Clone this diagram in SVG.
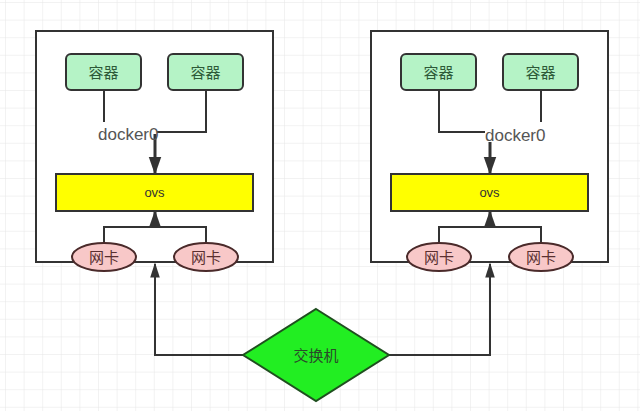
<svg xmlns="http://www.w3.org/2000/svg" width="640" height="411" viewBox="0 0 640 411">
<defs>
<pattern id="grid" x="5" y="2" width="18.6" height="17.6" patternUnits="userSpaceOnUse">
<path d="M0 0V17.6M0 0H18.6" fill="none" stroke="#e6e6e6" stroke-width="1"/>
</pattern>
<marker id="ah" viewBox="0 0 10 10" refX="9" refY="5" markerWidth="6" markerHeight="6" orient="auto" markerUnits="strokeWidth">
<path d="M0 1.5L10 5L0 8.5Z" fill="#333"/>
</marker>
<marker id="ah2" viewBox="0 0 10 10" refX="9" refY="5" markerWidth="7.5" markerHeight="7.5" orient="auto" markerUnits="strokeWidth">
<path d="M0 1.8L10 5L0 8.2Z" fill="#333"/>
</marker>
</defs>
<style>
.host{fill:#fff;stroke:#333;stroke-width:2}
.ctr{fill:#b5f3c6;stroke:#333;stroke-width:2}
.ovs{fill:#ffff00;stroke:#333;stroke-width:2}
.nic{fill:#f8c8c8;stroke:#4a2a2a;stroke-width:2}
.sw{fill:#22ee22;stroke:#1f4f1f;stroke-width:2}
.ln{fill:none;stroke:#333;stroke-width:2}
.arr{fill:none;stroke:#333;stroke-width:3}
text{font-family:"Liberation Sans","Noto Sans CJK SC",sans-serif;text-anchor:middle;dominant-baseline:central}
.tc{font-size:15px;fill:#2d5a38}
.tn{font-size:15px;fill:#5a3030}
.td{font-size:17px;fill:#555;text-anchor:start}
.to{font-size:13px;fill:#333}
.ts{font-size:15px;fill:#2a4a2a}
</style>
<rect width="640" height="411" fill="#fff"/>
<rect width="640" height="411" fill="url(#grid)"/>

<g id="host1"><rect class="host" x="36" y="31" width="237" height="231"/></g>
<g id="host2"><rect class="host" x="371" y="31" width="237" height="231"/></g>

<g id="connectors">
<path class="ln" d="M104 90V122"/>
<path class="ln" d="M206 90V132H157"/>
<path class="arr" d="M155 134V173" marker-end="url(#ah)"/>
<path class="ln" d="M104 245V227H206V245"/>
<path class="arr" d="M155 227V212" marker-end="url(#ah)"/>
<path class="ln" d="M439 90V132H485"/>
<path class="ln" d="M541 90V122"/>
<path class="arr" d="M490 142V173" marker-end="url(#ah)"/>
<path class="ln" d="M439 245V227H541V245"/>
<path class="arr" d="M490 227V212" marker-end="url(#ah)"/>
<path class="ln" d="M243 355H155V264" marker-end="url(#ah2)"/>
<path class="ln" d="M389 355H490V264" marker-end="url(#ah2)"/>
</g>

<g id="c1a"><rect class="ctr" x="66" y="54" width="75" height="36" rx="5"/><text class="tc" x="103.5" y="72">容器</text></g>
<g id="c1b"><rect class="ctr" x="168" y="54" width="75" height="36" rx="5"/><text class="tc" x="205.5" y="72">容器</text></g>
<g id="docker1"><text class="td" x="98" y="134">docker0</text></g>
<g id="ovs1"><rect class="ovs" x="56" y="174" width="197" height="37"/><text class="to" x="154.5" y="192.5">ovs</text></g>
<g id="n1a"><ellipse class="nic" cx="104" cy="257" rx="32" ry="14"/><text class="tn" x="104" y="257">网卡</text></g>
<g id="n1b"><ellipse class="nic" cx="206" cy="257" rx="32" ry="14"/><text class="tn" x="206" y="257">网卡</text></g>

<g id="c2a"><rect class="ctr" x="401" y="54" width="75" height="36" rx="5"/><text class="tc" x="438.5" y="72">容器</text></g>
<g id="c2b"><rect class="ctr" x="503" y="54" width="75" height="36" rx="5"/><text class="tc" x="540.5" y="72">容器</text></g>
<g id="docker2"><text class="td" x="485" y="135">docker0</text></g>
<g id="ovs2"><rect class="ovs" x="391" y="174" width="197" height="37"/><text class="to" x="489.5" y="192.5">ovs</text></g>
<g id="n2a"><ellipse class="nic" cx="439" cy="257" rx="32" ry="14"/><text class="tn" x="439" y="257">网卡</text></g>
<g id="n2b"><ellipse class="nic" cx="541" cy="257" rx="32" ry="14"/><text class="tn" x="541" y="257">网卡</text></g>

<g id="switch"><path class="sw" d="M316 309L389 355L316 401L243 355Z"/><text class="ts" x="316" y="355">交换机</text></g>
</svg>
